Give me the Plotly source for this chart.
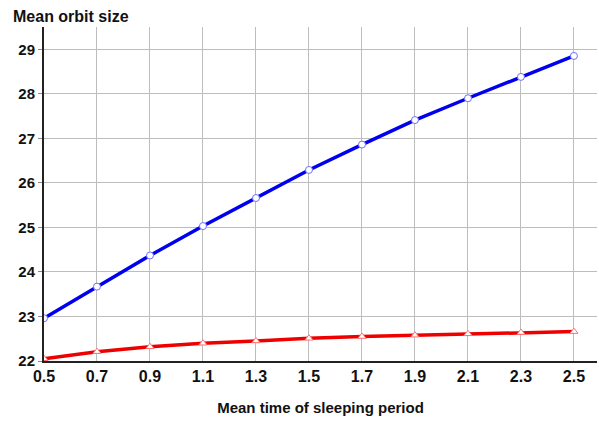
import plotly.graph_objects as go

# Mean time of sleeping period (x) and mean orbit size for both series
sleep_time = [0.5, 0.7, 0.9, 1.1, 1.3, 1.5, 1.7, 1.9, 2.1, 2.3, 2.5]
orbit_blue = [22.96, 23.67, 24.37, 25.03, 25.66, 26.29, 26.86, 27.41, 27.90, 28.38, 28.85]
orbit_red = [22.05, 22.21, 22.32, 22.40, 22.45, 22.51, 22.55, 22.58, 22.61, 22.64, 22.66]
x_ticks = [0.5, 0.7, 0.9, 1.1, 1.3, 1.5, 1.7, 1.9, 2.1, 2.3, 2.5]
y_ticks = [22, 23, 24, 25, 26, 27, 28, 29]

font_family = "Liberation Sans, Arial, sans-serif"

fig = go.Figure()
fig.add_trace(go.Scatter(
    x=sleep_time, y=orbit_blue, mode="lines+markers",
    line=dict(color="#0000ee", width=3.5),
    marker=dict(symbol="circle", size=7, color="white",
                line=dict(color="#6f6fff", width=1)),
    showlegend=False,
))
fig.add_trace(go.Scatter(
    x=sleep_time, y=orbit_red, mode="lines+markers",
    line=dict(color="#ee0000", width=3.5),
    marker=dict(symbol="triangle-up", size=7, color="white",
                line=dict(color="#ff7070", width=1)),
    showlegend=False,
))

fig.update_layout(
    width=599, height=425,
    margin=dict(l=44, r=2, t=27, b=64),
    paper_bgcolor="white", plot_bgcolor="white",
    font=dict(family=font_family, color="#111111"),
    xaxis=dict(
        range=[0.5, 2.587], tickvals=x_ticks,
        ticktext=[f"{v:.1f}" for v in x_ticks],
        tickfont=dict(size=16, family=font_family, weight="bold"),
        showgrid=True, gridcolor="#bdbdbd", gridwidth=1,
        showline=True, linecolor="#222222", linewidth=2,
        ticks="", zeroline=False,
        title=dict(text="<b>Mean time of sleeping period</b>",
                   font=dict(size=15), standoff=18),
    ),
    yaxis=dict(
        range=[22, 29.5], tickvals=y_ticks,
        tickfont=dict(size=15, family=font_family, weight="bold"),
        showgrid=True, gridcolor="#bdbdbd", gridwidth=1,
        showline=True, linecolor="#222222", linewidth=2,
        ticks="outside", ticklen=4, tickcolor="#888888",
        zeroline=False,
    ),
    annotations=[dict(
        text="<b>Mean orbit size</b>", x=0, y=1, xref="paper", yref="paper",
        xanchor="left", yanchor="bottom", xshift=-33, yshift=0,
        showarrow=False, font=dict(size=16, family=font_family),
    )],
)

fig.write_html("out.html")
